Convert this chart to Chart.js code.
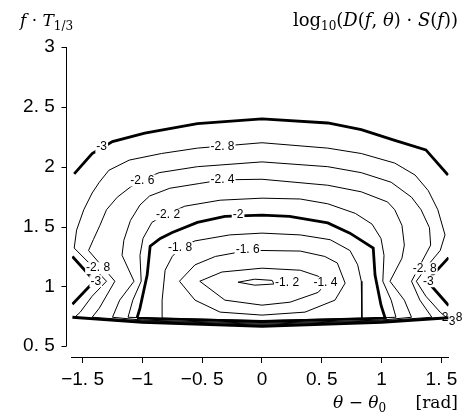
<!DOCTYPE html>
<html>
<head>
<meta charset="utf-8">
<script src="https://cdn.jsdelivr.net/npm/chart.js@4.4.1/dist/chart.umd.min.js"></script>
<style>
  html, body { margin: 0; padding: 0; background: #fff; }
</style>
</head>
<body>
<canvas id="contour" width="473" height="414"></canvas>
<script>
// axis ticks
const xTicks = [-1.5, -1, -0.5, 0, 0.5, 1, 1.5];
const xTickLabels = ["−1. 5", "−1", "−0. 5", "0", "0. 5", "1", "1. 5"];
const yTicks = [0.5, 1, 1.5, 2, 2.5, 3];
const yTickLabels = ["0. 5", "1", "1. 5", "2", "2. 5", "3"];

// contour lines: x = theta - theta0 [rad], y = f*T1/3
// -3 (thick) is cut by the plot edges into four pieces
const m30TopX = [-1.57, -1.42, -1.25, -0.98, -0.54, 0, 0.55, 0.83, 1.11, 1.37, 1.555];
const m30TopY = [1.94, 2.11, 2.21, 2.28, 2.36, 2.40, 2.365, 2.31, 2.22, 2.14, 1.93];
const m30LeftX = [-1.585, -1.40, -1.585];
const m30LeftY = [1.25, 1.045, 0.85];
const m30RightX = [1.56, 1.38, 1.56];
const m30RightY = [1.24, 1.045, 0.84];
const m30LowX = [-1.585, -1.0, 0, 1.0, 1.56];
const m30LowY = [0.742, 0.70, 0.667, 0.70, 0.738];

const m28X = [-1.565, -1.52, -1.42, -1.30, -1.44, -1.57, -1.55, -1.49, -1.42, -1.36, -1.28, -1.11, -0.84, -0.54, 0, 0.55, 0.83, 1.11, 1.28, 1.39, 1.47, 1.53, 1.49, 1.39, 1.29, 1.37, 1.49, 1.54, 1.0, 0, -1.0, -1.565];
const m28Y = [0.742, 0.784, 0.918, 1.043, 1.19, 1.32, 1.47, 1.64, 1.78, 1.87, 1.97, 2.055, 2.11, 2.155, 2.20, 2.155, 2.11, 2.03, 1.93, 1.80, 1.64, 1.43, 1.30, 1.18, 1.043, 0.918, 0.784, 0.742, 0.705, 0.676, 0.705, 0.742];

const m26X = [-1.42, -1.36, -1.23, -1.45, -1.41, -1.355, -1.30, -1.21, -1.10, -1.0, -0.86, -0.54, 0, 0.55, 0.83, 1.08, 1.25, 1.33, 1.40, 1.41, 1.25, 1.32, 1.42, 1.0, 0, -1.0, -1.42];
const m26Y = [0.742, 0.818, 1.043, 1.30, 1.39, 1.51, 1.64, 1.745, 1.83, 1.89, 1.95, 2.0, 2.04, 2.0, 1.95, 1.87, 1.745, 1.64, 1.49, 1.345, 1.043, 0.885, 0.742, 0.712, 0.684, 0.712, 0.742];

const m24X = [-1.25, -1.19, -1.07, -1.17, -1.155, -1.10, -1.02, -0.94, -0.77, -0.52, -0.33, 0, 0.55, 0.83, 1.05, 1.11, 1.17, 1.19, 1.17, 1.07, 1.19, 1.25, 1.0, 0, -1.0, -1.25];
const m24Y = [0.742, 0.885, 1.043, 1.26, 1.385, 1.55, 1.68, 1.755, 1.82, 1.86, 1.89, 1.895, 1.845, 1.79, 1.705, 1.64, 1.51, 1.345, 1.235, 1.043, 0.885, 0.742, 0.718, 0.692, 0.718, 0.742];

const m22X = [-1.12, -1.08, -1.01, -1.02, -0.995, -0.92, -0.785, -0.645, -0.35, 0, 0.32, 0.55, 0.78, 0.92, 0.995, 1.02, 1.01, 1.08, 1.12, 0, -1.12];
const m22Y = [0.742, 0.885, 1.043, 1.26, 1.40, 1.535, 1.61, 1.67, 1.72, 1.737, 1.73, 1.69, 1.61, 1.52, 1.40, 1.26, 1.043, 0.885, 0.742, 0.70, 0.742];

// -2 (thick)
const m20X = [-1.045, -1.02, -0.96, -0.935, -0.85, -0.75, -0.54, -0.31, 0, 0.23, 0.55, 0.735, 0.93, 0.945, 0.995, 1.03, 0, -1.045];
const m20Y = [0.734, 0.818, 1.094, 1.336, 1.40, 1.45, 1.535, 1.585, 1.595, 1.585, 1.53, 1.445, 1.32, 1.094, 0.843, 0.734, 0.705, 0.734];

const m18X = [-0.83, -0.835, -0.81, -0.75, -0.685, -0.56, -0.27, 0, 0.32, 0.57, 0.735, 0.80, 0.83, 0.835, 0.835, 0, -0.83];
const m18Y = [0.734, 0.885, 1.135, 1.25, 1.32, 1.38, 1.43, 1.445, 1.43, 1.39, 1.30, 1.18, 1.043, 0.885, 0.734, 0.715, 0.734];

const m16X = [-0.69, -0.56, -0.39, -0.12, 0, 0.32, 0.525, 0.63, 0.695, 0.61, 0.36, 0, -0.35, -0.56, -0.69];
const m16Y = [1.043, 1.18, 1.25, 1.30, 1.30, 1.295, 1.25, 1.195, 1.027, 0.885, 0.785, 0.76, 0.785, 0.885, 1.043];

const m14X = [-0.52, -0.335, 0, 0.32, 0.47, 0.535, 0.47, 0.235, 0, -0.31, -0.52];
const m14Y = [1.043, 1.12, 1.152, 1.135, 1.085, 1.027, 0.95, 0.868, 0.843, 0.885, 1.043];

const m12X = [-0.20, -0.06, 0.085, 0.10, -0.06, -0.20];
const m12Y = [1.035, 1.06, 1.05, 1.02, 1.01, 1.035];

// inline contour labels
const labelText = ["-3", "-2. 8", "-2. 6", "-2. 4", "-2. 2", "-2", "-1. 8", "-1. 6", "-1. 2", "-1. 4", "-2. 8", "-3", "-2. 8", "-3"];
const labelX = [-1.34, -0.33, -1.0, -0.33, -0.785, -0.20, -0.685, -0.12, 0.21, 0.53, -1.37, -1.39, 1.36, 1.39];
const labelY = [2.165, 2.165, 1.885, 1.89, 1.60, 1.60, 1.32, 1.305, 1.027, 1.027, 1.152, 1.043, 1.15, 1.043];
// the crowded labels at the lower right edge overprint each other
const edgeText = ["2", "3", "8"];
const edgeX = [1.53, 1.59, 1.647];
const edgeY = [0.742, 0.709, 0.742];

const THIN = 1;
const THICK = 2.8;

function contour(xs, ys, w) {
  return {
    data: xs.map((x, i) => ({ x: x, y: ys[i] })),
    showLine: true,
    borderColor: "#000",
    borderWidth: w,
    pointRadius: 0,
    tension: 0,
    fill: false
  };
}

const datasets = [
  contour(m30TopX, m30TopY, THICK),
  contour(m30LeftX, m30LeftY, THICK),
  contour(m30RightX, m30RightY, THICK),
  contour(m30LowX, m30LowY, THICK),
  contour(m28X, m28Y, THIN),
  contour(m26X, m26Y, THIN),
  contour(m24X, m24Y, THIN),
  contour(m22X, m22Y, THIN),
  contour(m20X, m20Y, THICK),
  contour(m18X, m18Y, THIN),
  contour(m16X, m16Y, THIN),
  contour(m14X, m14Y, THIN),
  contour(m12X, m12Y, THIN)
];

const serif = "'DejaVu Serif', 'Liberation Serif', serif";
const sans = "'Liberation Sans', Arial, sans-serif";

// text made of runs: [text, font, baseline shift]
function drawRuns(ctx, runs, x, y, align) {
  let total = 0;
  runs.forEach(r => { ctx.font = r[1]; total += ctx.measureText(r[0]).width; });
  let cx = align === "right" ? x - total : x;
  runs.forEach(r => {
    ctx.font = r[1];
    ctx.fillText(r[0], cx, y + (r[2] || 0));
    cx += ctx.measureText(r[0]).width;
  });
}

const decorations = {
  id: "decorations",
  afterDatasetsDraw(chart) {
    const { ctx, scales: { x, y } } = chart;
    ctx.save();
    ctx.font = "12px " + sans;
    ctx.textAlign = "center";
    ctx.textBaseline = "middle";
    labelText.forEach((t, i) => {
      const px = x.getPixelForValue(labelX[i]);
      const py = y.getPixelForValue(labelY[i]);
      const w = ctx.measureText(t).width + 2;
      ctx.fillStyle = "#fff";
      ctx.fillRect(px - w / 2, py - 6, w, 12);
      ctx.fillStyle = "#000";
      ctx.fillText(t, px, py);
    });
    edgeText.forEach((t, i) => {
      ctx.fillText(t, x.getPixelForValue(edgeX[i]), y.getPixelForValue(edgeY[i]));
    });
    ctx.restore();
  },
  afterDraw(chart) {
    const { ctx, scales: { x, y } } = chart;
    ctx.save();
    // the vertical axis stands a little apart from the plot
    const ax = Math.round(chart.chartArea.left) - 6 + 0.5;
    ctx.strokeStyle = "#000";
    ctx.lineWidth = 1;
    ctx.beginPath();
    ctx.moveTo(ax, y.getPixelForValue(3));
    ctx.lineTo(ax, y.getPixelForValue(0.5));
    yTicks.forEach(v => {
      const py = Math.round(y.getPixelForValue(v)) + 0.5;
      ctx.moveTo(ax - 5, py);
      ctx.lineTo(ax, py);
    });
    ctx.stroke();

    ctx.fillStyle = "#000";
    ctx.textBaseline = "alphabetic";
    ctx.textAlign = "left";
    const it = "italic 17px " + serif;
    const rm = "17px " + serif;
    const sm = "12px " + serif;
    const it18 = "italic 18px " + serif;
    const rm18 = "18px " + serif;
    drawRuns(ctx, [["f", it], [" · ", rm], ["T", it], ["1/3", sm, 4]], 20, 26, "left");
    drawRuns(ctx, [["log", rm18], ["10", sm, 4], ["(", rm18], ["D", it18], ["(", rm18], ["f", it18], [", ", rm18],
      ["θ", it18], [") · ", rm18], ["S", it18], ["(", rm18], ["f", it18], ["))", rm18]], 458, 26, "right");
    drawRuns(ctx, [["θ", it], [" − ", rm], ["θ", it], ["0", sm, 4]], 333, 408, "left");
    drawRuns(ctx, [["[rad]", rm]], 458, 408, "right");
    ctx.restore();
  }
};

new Chart(document.getElementById("contour"), {
  type: "scatter",
  data: { datasets: datasets },
  options: {
    responsive: false,
    animation: false,
    devicePixelRatio: 1,
    layout: { padding: { top: 41, right: 24.4, left: 0, bottom: 0 } },
    plugins: { legend: { display: false }, tooltip: { enabled: false } },
    scales: {
      x: {
        type: "linear",
        min: -1.59,
        max: 1.56,
        afterBuildTicks: s => { s.ticks = xTicks.map(v => ({ value: v })); },
        afterFit: s => { s.height = 57; },
        grid: { drawOnChartArea: false, drawTicks: true, tickLength: 6, color: "#000", lineWidth: 1 },
        border: { display: true, color: "#000", width: 1 },
        ticks: {
          color: "#000",
          font: { family: sans, size: 19 },
          padding: 5,
          maxRotation: 0,
          autoSkip: false,
          callback: v => xTickLabels[xTicks.indexOf(v)]
        }
      },
      y: {
        type: "linear",
        min: 0.41,
        max: 3.05,
        afterBuildTicks: s => { s.ticks = yTicks.map(v => ({ value: v })); },
        afterFit: s => { s.width = 71.8; },
        grid: { display: false, drawTicks: false },
        border: { display: false },
        ticks: {
          color: "#000",
          font: { family: sans, size: 19 },
          padding: 17,
          callback: v => yTickLabels[yTicks.indexOf(v)]
        }
      }
    }
  },
  plugins: [decorations]
});
</script>
</body>
</html>
